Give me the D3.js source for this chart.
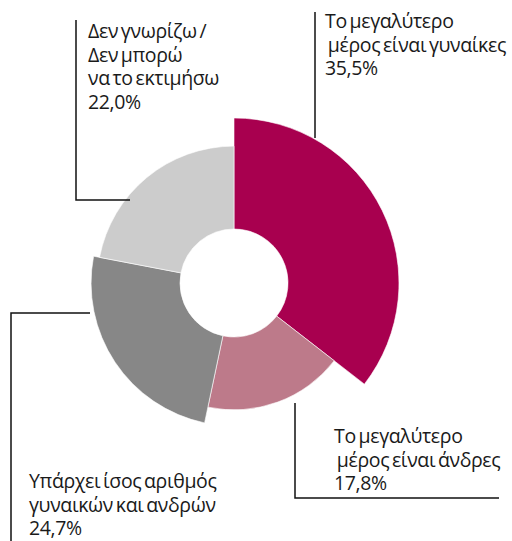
<!DOCTYPE html>
<meta charset="utf-8">
<style>
body { margin: 0; background: #fff; }
.label text {
  font: 19.5px "Open Sans", sans-serif;
  fill: #1a1a1a;
  letter-spacing: -0.35px;
  word-spacing: -2px;
}
.leader {
  fill: none;
  stroke: #111;
  stroke-width: 1.5;
}
</style>
<body>
<div id="chart"></div>
</body>
<script src="https://d3js.org/d3.v7.min.js"></script>
<script>
// answers, in clockwise order from 12 o'clock
var categories = [
  "Το μεγαλύτερο μέρος είναι γυναίκες",
  "Το μεγαλύτερο μέρος είναι άνδρες",
  "Υπάρχει ίσος αριθμός γυναικών και ανδρών",
  "Δεν γνωρίζω / Δεν μπορώ να το εκτιμήσω"
];
var values = [35.5, 17.8, 24.7, 22.0];
var valueLabels = ["35,5%", "17,8%", "24,7%", "22,0%"];
var labelLines = [
  ["Το μεγαλύτερο", " μέρος είναι γυναίκες"],
  ["Το μεγαλύτερο", " μέρος είναι άνδρες"],
  ["Υπάρχει ίσος αριθμός", "γυναικών και ανδρών"],
  ["Δεν γνωρίζω /", "Δεν μπορώ", "να το εκτιμήσω"]
];
var colors = ["#a8004f", "#bd7a8a", "#878787", "#cccccc"];

var width = 512,
    height = 541,
    cx = 234,
    cy = 283,
    innerR = 54;

var data = categories.map(function(c, i) {
  return {name: c, value: values[i], pct: valueLabels[i], lines: labelLines[i], color: colors[i]};
});

var r = d3.scaleRadial()
  .domain([0, d3.max(values)])
  .range([70, 165]);

var pie = d3.pie()
  .sort(null)
  .value(function(d) { return d.value; });

var svg = d3.select("#chart").append("svg")
  .attr("width", width)
  .attr("height", height);

var g = svg.append("g")
  .attr("transform", "translate(" + cx + "," + cy + ")");

g.selectAll("path")
  .data(pie(data))
  .enter().append("path")
  .attr("d", function(d) {
    return d3.arc().innerRadius(innerR).outerRadius(r(d.data.value))(d);
  })
  .style("fill", function(d) { return d.data.color; })
  .style("stroke", "#fff")
  .style("stroke-width", 0.6);

// leader lines (label placement)
var leaders = [
  [[315, 138], [315, 12]],
  [[295, 403], [295, 498], [499, 498]],
  [[90, 313], [11, 313], [11, 541]],
  [[130, 200], [76, 200], [76, 20]]
];
svg.selectAll(".leader")
  .data(leaders)
  .enter().append("path")
  .attr("class", "leader")
  .attr("d", d3.line());

var labelPos = [
  {x: 325, y: 28},
  {x: 334, y: 443},
  {x: 29, y: 488},
  {x: 88, y: 38}
];
var lineH = 23.5;

var lab = svg.selectAll(".label")
  .data(data)
  .enter().append("g")
  .attr("class", "label")
  .attr("transform", function(d, i) { return "translate(" + labelPos[i].x + "," + labelPos[i].y + ")"; });

lab.append("text")
  .style("white-space", "pre")
  .selectAll("tspan")
  .data(function(d) { return d.lines.concat([d.pct]); })
  .enter().append("tspan")
  .attr("x", 0)
  .attr("y", function(d, i) { return i * lineH; })
  .text(function(d) { return d; });
</script>
